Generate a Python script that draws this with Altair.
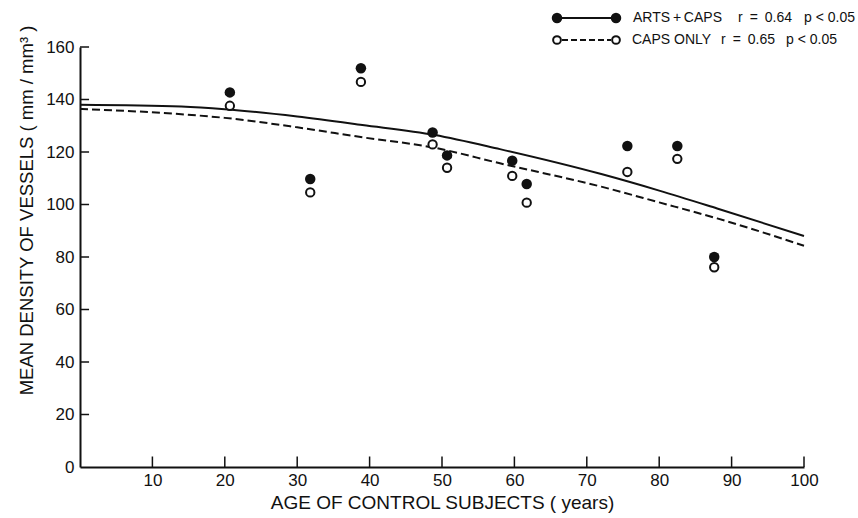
import altair as alt
import pandas as pd

# ---- data ----
ages = [20.7, 31.8, 38.8, 48.7, 50.7, 59.7, 61.7, 75.6, 82.5, 87.6]
arts_caps = [142.7, 109.7, 151.9, 127.4, 118.7, 116.7, 107.8, 122.3, 122.3, 80.0]
caps_only = [137.6, 104.6, 146.7, 122.9, 114.0, 110.9, 100.7, 112.4, 117.4, 76.1]

fit_ages = [0, 14, 20, 30, 39, 49, 58, 72, 80, 88, 100]
fit_arts_caps = [138.0, 137.3, 136.3, 133.5, 130.3, 126.5, 121.1, 111.6, 105.3, 98.5, 88.0]
fit_caps_only = [136.4, 134.4, 133.0, 129.4, 125.6, 121.6, 115.7, 106.8, 100.8, 94.7, 84.3]

x_ticks = [10, 20, 30, 40, 50, 60, 70, 80, 90, 100]
y_ticks = [0, 20, 40, 60, 80, 100, 120, 140, 160]

legend_names = ["ARTS\u2009+\u2009CAPS", "CAPS ONLY"]
legend_r = ["r\u2002=\u20020.64", "r\u2002=\u20020.65"]
legend_p = ["p < 0.05", "p < 0.05"]

x_title = "AGE OF CONTROL SUBJECTS ( years)"
y_title = "MEAN DENSITY OF VESSELS ( mm / mm\u00b3 )"

FONT = "Liberation Sans"
INK = "#111111"

pts = pd.DataFrame({"age": ages, "arts": arts_caps, "caps": caps_only})
fit = pd.DataFrame({"age": fit_ages, "arts": fit_arts_caps, "caps": fit_caps_only})
xt = pd.DataFrame({"v": x_ticks, "y0": [0] * len(x_ticks), "y1": [4] * len(x_ticks)})
yt = pd.DataFrame({"v": y_ticks[1:], "x0": [0] * (len(y_ticks) - 1), "x1": [1.25] * (len(y_ticks) - 1)})

xscale = alt.Scale(domain=[0, 100], nice=False, zero=False)
yscale = alt.Scale(domain=[0, 160], nice=False)

xaxis = alt.Axis(values=x_ticks, tickSize=0, labelPadding=5, title=x_title,
                 titleX=362, titleY=41, titleBaseline="alphabetic", titleAnchor="middle",
                 titleAlign="center", titleFontSize=19)
yaxis = alt.Axis(values=y_ticks, tickSize=0, labelPadding=6, title=y_title,
                 titleX=-54, titleY=163, titleAngle=270, titleAlign="center",
                 titleBaseline="middle", titleFontSize=18.5)

X = alt.X("age:Q", scale=xscale, axis=xaxis)

base_axes = alt.Chart(pts).mark_point(opacity=0).encode(
    x=X, y=alt.Y("arts:Q", scale=yscale, axis=yaxis)
)

line_solid = alt.Chart(fit).mark_line(color=INK, strokeWidth=2, interpolate="monotone").encode(
    x=alt.X("age:Q", scale=xscale), y=alt.Y("arts:Q", scale=yscale)
)
line_dash = alt.Chart(fit).mark_line(color=INK, strokeWidth=2, strokeDash=[8, 4],
                                     interpolate="monotone").encode(
    x=alt.X("age:Q", scale=xscale), y=alt.Y("caps:Q", scale=yscale)
)

filled = alt.Chart(pts).mark_point(shape="circle", filled=True, size=110, color=INK, opacity=1).encode(
    x=alt.X("age:Q", scale=xscale), y=alt.Y("arts:Q", scale=yscale)
)
opened = alt.Chart(pts).mark_point(shape="circle", filled=False, size=70, stroke=INK,
                                   fill="white", fillOpacity=1, strokeWidth=2, opacity=1).encode(
    x=alt.X("age:Q", scale=xscale), y=alt.Y("caps:Q", scale=yscale)
)

xtick_rules = alt.Chart(xt).mark_rule(color=INK, strokeWidth=1.5).encode(
    x=alt.X("v:Q", scale=xscale), y=alt.Y("y0:Q", scale=yscale), y2="y1:Q"
)
ytick_rules = alt.Chart(yt).mark_rule(color=INK, strokeWidth=1.5).encode(
    y=alt.Y("v:Q", scale=yscale), x=alt.X("x0:Q", scale=xscale), x2="x1:Q"
)

# ---- legend (drawn in the top margin) ----
one = pd.DataFrame({"k": [0]})
rows_y = [-29, -7]
name_x = [553, 552]
r_x = [658, 641]
p_x = [724, 706]
leg_layers = []
for i in range(2):
    yv = rows_y[i]
    rule = alt.Chart(one).mark_rule(color=INK, strokeWidth=2,
                                    **({"strokeDash": [6, 3]} if i == 1 else {})).encode(
        x=alt.value(482), x2=alt.value(531), y=alt.value(yv), y2=alt.value(yv))
    if i == 0:
        dot_kw = dict(shape="circle", filled=True, size=110, color=INK, opacity=1)
    else:
        dot_kw = dict(shape="circle", filled=False, size=60, stroke=INK, fill="white",
                      fillOpacity=1, strokeWidth=2, opacity=1)
    d1 = alt.Chart(one).mark_point(**dot_kw).encode(x=alt.value(477), y=alt.value(yv))
    d2 = alt.Chart(one).mark_point(**dot_kw).encode(x=alt.value(536), y=alt.value(yv))
    txt_kw = dict(font=FONT, fontSize=14, color=INK, align="left", baseline="middle")
    t1 = alt.Chart(one).mark_text(text=legend_names[i], **txt_kw).encode(
        x=alt.value(name_x[i]), y=alt.value(yv))
    t2 = alt.Chart(one).mark_text(text=legend_r[i], **txt_kw).encode(
        x=alt.value(r_x[i]), y=alt.value(yv))
    t3 = alt.Chart(one).mark_text(text=legend_p[i], **txt_kw).encode(
        x=alt.value(p_x[i]), y=alt.value(yv))
    leg_layers += [rule, d1, d2, t1, t2, t3]

chart = alt.layer(
    base_axes, xtick_rules, ytick_rules, line_solid, line_dash, filled, opened, *leg_layers
).properties(
    width=724, height=420,
    autosize=alt.AutoSizeParams(type="none"),
    padding={"left": 80, "top": 47, "right": 54, "bottom": 51},
    background="white",
).configure_view(stroke=None).configure_axis(
    grid=False, domainColor=INK, domainWidth=2, labelFont=FONT, labelFontSize=17,
    labelColor=INK, titleFont=FONT, titleFontWeight="normal",
    titleColor=INK,
).configure_axisX(labelFlush=False).configure_axisY(labelBaseline="middle")

chart.save("out.html", embed_options={"renderer": "svg", "actions": False})
